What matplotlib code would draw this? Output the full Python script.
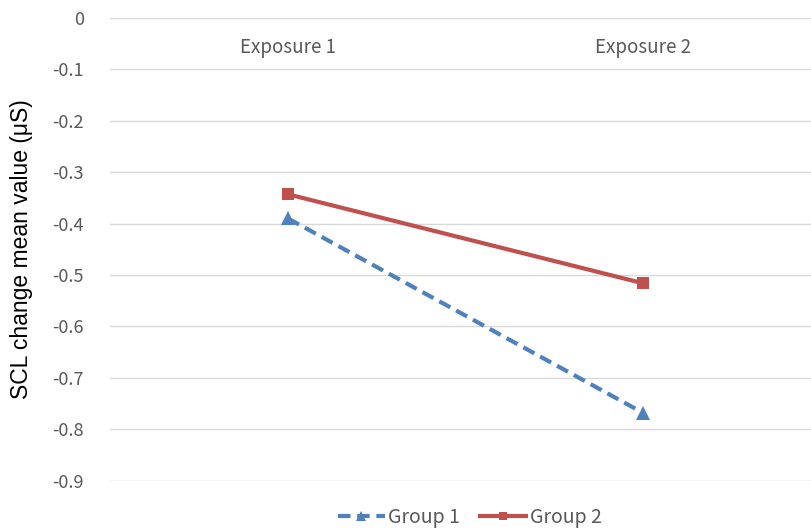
import matplotlib
matplotlib.use("Agg")
import matplotlib.pyplot as plt

# Data
categories = ["Exposure 1", "Exposure 2"]
group1 = [-0.39, -0.768]
group2 = [-0.343, -0.516]
series_names = ["Group 1", "Group 2"]
yticks = [0, -0.1, -0.2, -0.3, -0.4, -0.5, -0.6, -0.7, -0.8, -0.9]

blue = "#4F81BD"
red = "#C0504D"
gray = "#595959"
cjk = ["Noto Sans CJK KR", "DejaVu Sans"]

fig = plt.figure(figsize=(8.11, 5.28), dpi=100)
ax = fig.add_axes([110.5 / 811, 0.0896, 710 / 811, 0.8764])

x = list(range(len(categories)))
ax.plot(x, group1, color=blue, lw=3, ls=(0, (3, 1.6)), marker="^", ms=10,
        markeredgewidth=0, label=series_names[0], zorder=3, clip_on=False)
ax.plot(x, group2, color=red, lw=3, ls="-", marker="s", ms=9,
        markeredgewidth=0, label=series_names[1], zorder=3, clip_on=False)

ax.set_xlim(-0.5, 1.5)
ax.set_ylim(-0.9, 0)
ax.set_yticks(yticks)
ax.set_yticklabels(["0" if v == 0 else f"{v:.1f}" for v in yticks],
                   fontsize=13, color=gray, family=cjk)
ax.tick_params(axis="y", length=0, pad=19)
ax.set_xticks([])
ax.grid(axis="y", color="#D9D9D9", lw=1)
ax.set_axisbelow(True)
for s in ax.spines.values():
    s.set_visible(False)

# Category labels hang just below the zero line
for xi, name in zip(x, categories):
    ax.text(xi, -0.058, name, ha="center", va="center", fontsize=13.5,
            color=gray, family=cjk)

ax.set_ylabel("SCL change mean value (\u03bcS)", fontsize=16.5,
              family="Liberation Sans", color="black", labelpad=14)

leg = fig.legend(*ax.get_legend_handles_labels(), loc="center",
                 bbox_to_anchor=(470 / 811, 1 - 517 / 528), ncol=2,
                 frameon=False, handlelength=2.4, columnspacing=1.0,
                 handletextpad=0.2, markerscale=0.7,
                 prop={"family": cjk, "size": 14})
for t in leg.get_texts():
    t.set_color(gray)

fig.savefig("out.png", dpi=100)
